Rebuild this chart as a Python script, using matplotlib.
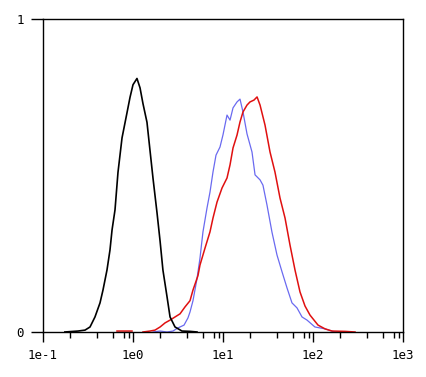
import numpy as np
import matplotlib.pyplot as plt
from matplotlib.ticker import FixedLocator, NullFormatter

# histogram outlines (intensity, normalised count)
black_x = [0.175, 0.245, 0.293, 0.333, 0.378, 0.43, 0.464, 0.514, 0.555, 0.585,
           0.631, 0.681, 0.755, 0.857, 0.927, 1.0, 1.107, 1.197, 1.29, 1.43,
           1.545, 1.67, 1.85, 2.0, 2.15, 2.39, 2.58, 2.93, 3.5, 4.3, 5.14]
black_y = [0.0, 0.003, 0.006, 0.016, 0.048, 0.093, 0.134, 0.198, 0.262, 0.326,
           0.39, 0.51, 0.62, 0.70, 0.75, 0.79, 0.81, 0.78, 0.73, 0.67,
           0.58, 0.49, 0.38, 0.29, 0.198, 0.112, 0.048, 0.016, 0.003, 0.002, 0.0]

blue_x = [1.67, 2.0, 2.39, 2.78, 3.16, 3.69, 4.08, 4.30, 4.64, 5.14,
          5.55, 5.99, 6.64, 7.17, 7.74, 8.36, 9.26, 10.0, 11.08, 11.97,
          12.92, 14.31, 15.45, 16.68, 18.48, 21.0, 22.7, 25.8, 27.8, 30.8,
          35.0, 39.8, 45.3, 51.4, 58.4, 66.4, 75.5, 85.8, 105, 136, 175, 200]
blue_y = [0.0, 0.003, 0.0, 0.003, 0.013, 0.022, 0.045, 0.064, 0.10, 0.17,
          0.236, 0.32, 0.396, 0.447, 0.511, 0.565, 0.591, 0.63, 0.693, 0.677,
          0.716, 0.735, 0.744, 0.703, 0.633, 0.575, 0.502, 0.486, 0.469, 0.406,
          0.319, 0.246, 0.192, 0.141, 0.093, 0.077, 0.048, 0.038, 0.016, 0.01, 0.0, 0.0]

red_x = [0.664, 0.975, np.nan, 1.29, 1.545, 1.755, 2.0, 2.27, 2.58, 2.93, 3.33,
         3.78, 4.30, 4.64, 5.27, 5.55, 6.31, 7.17, 7.74, 8.58, 9.75,
         11.08, 11.97, 12.92, 14.31, 15.45, 16.68, 18.48, 19.95, 22.1, 23.9,
         25.8, 29.3, 33.3, 37.8, 43.0, 48.9, 55.5, 63.1, 71.7, 81.5,
         92.6, 113.7, 136, 162.6, 227, 293]
red_y = [0.003, 0.003, np.nan, 0.0, 0.003, 0.006, 0.016, 0.029, 0.038, 0.048, 0.058,
         0.08, 0.10, 0.134, 0.18, 0.214, 0.268, 0.32, 0.364, 0.415, 0.46,
         0.492, 0.534, 0.588, 0.629, 0.671, 0.703, 0.725, 0.735, 0.741, 0.751,
         0.725, 0.661, 0.575, 0.511, 0.428, 0.364, 0.278, 0.198, 0.128, 0.083,
         0.054, 0.022, 0.01, 0.003, 0.002, 0.0]

major = [0.1, 1, 10, 100, 1000]
major_labels = ['1e-1', '1e0', '1e1', '1e2', '1e3']

fig = plt.figure(figsize=(4.27, 3.77), dpi=100)
ax = fig.add_axes([0.1007, 0.1194, 0.8431, 0.8302])

ax.plot(blue_x, blue_y, color='#6a6af0', lw=0.9)
ax.plot(red_x, red_y, color='#e01010', lw=1.1)
ax.plot(black_x, black_y, color='black', lw=1.2)

ax.set_xscale('log')
ax.set_xlim(0.1, 1000)
ax.set_ylim(0, 1)

minor = [m * d for d in [0.1, 1, 10, 100] for m in [2, 4, 6, 8, 9]]
ax.xaxis.set_major_locator(FixedLocator(major))
ax.xaxis.set_minor_locator(FixedLocator(minor))
ax.xaxis.set_minor_formatter(NullFormatter())
ax.set_xticklabels(major_labels, family='DejaVu Sans Mono', fontsize=9)
ax.set_yticks([0, 1])
ax.set_yticklabels(['0', '1'], family='DejaVu Sans Mono', fontsize=9)

ax.tick_params(axis='x', which='major', length=7, width=1, pad=5)
ax.tick_params(axis='x', which='minor', length=4.5, width=1)
ax.tick_params(axis='y', length=9, width=1, pad=5)
for s in ax.spines.values():
    s.set_linewidth(1)

fig.savefig('out.png', dpi=100)
